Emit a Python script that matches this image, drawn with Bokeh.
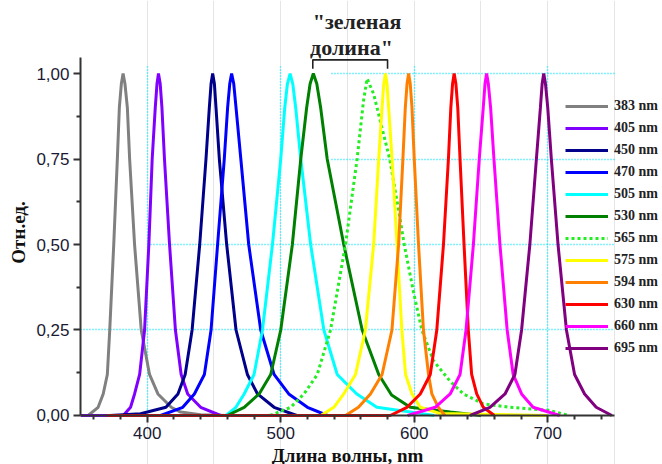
from bokeh.plotting import figure
from bokeh.models import (FixedTicker, Legend, LegendItem, Label, Range1d, Grid, LinearAxis)
from bokeh.embed import file_html
from bokeh.resources import INLINE

# ---- data (wavelength nm, relative intensity) ----
labels = ["383 nm", "405 nm", "450 nm", "470 nm", "505 nm", "530 nm",
          "565 nm", "575 nm", "594 nm", "630 nm", "660 nm", "695 nm"]
colors = ["#808080", "#8000ff", "#00008b", "#0000ff", "#00ffff", "#008000",
          "#22ee22", "#ffff00", "#ff8000", "#ff0000", "#ff00ff", "#800080"]

x_383 = [350, 355.7, 363.2, 367, 370.1, 371.9, 374.9, 377.6, 379.1, 380.6, 381.9, 383.3, 385.1, 386.8, 390.5, 395.5, 401.7, 408, 418, 425, 440, 460]
y_383 = [0, 0, 0.024, 0.063, 0.12, 0.25, 0.5, 0.75, 0.9, 0.97, 1.0, 0.97, 0.9, 0.75, 0.5, 0.25, 0.12, 0.063, 0.024, 0.01, 0.002, 0]

x_405 = [350, 382, 387.5, 390.5, 394.3, 398, 401.2, 403.7, 406, 407.3, 408.4, 409.7, 411, 412.9, 416.7, 421.1, 425.4, 430.3, 440, 455]
y_405 = [0, 0, 0.024, 0.063, 0.12, 0.25, 0.5, 0.75, 0.9, 0.97, 1.0, 0.97, 0.9, 0.75, 0.5, 0.25, 0.12, 0.063, 0.024, 0]

x_450 = [372, 395, 414, 423, 428.4, 433.6, 439.3, 444, 446.5, 447.8, 449, 450.3, 451.5, 454, 459.5, 466.5, 475, 482.6, 495, 512]
y_450 = [0, 0.005, 0.024, 0.063, 0.12, 0.25, 0.5, 0.75, 0.9, 0.97, 1.0, 0.97, 0.9, 0.75, 0.5, 0.25, 0.12, 0.063, 0.024, 0]

x_470 = [410, 426.6, 435.3, 442.8, 447.8, 452.7, 457.7, 460.2, 461.8, 463.2, 464.8, 466.5, 470.1, 476, 485, 495, 506, 520, 535]
y_470 = [0, 0.024, 0.063, 0.12, 0.25, 0.5, 0.75, 0.9, 0.97, 1.0, 0.97, 0.9, 0.75, 0.5, 0.25, 0.12, 0.063, 0.024, 0]

x_505 = [459, 466.4, 472.6, 480, 486.3, 493.8, 500, 503, 505, 507, 509, 511.2, 515, 522.4, 532.3, 542.3, 557, 572, 594.5, 615]
y_505 = [0, 0.024, 0.063, 0.12, 0.25, 0.5, 0.75, 0.9, 0.97, 1.0, 0.97, 0.9, 0.75, 0.5, 0.25, 0.12, 0.063, 0.024, 0.012, 0]

x_530 = [460, 472.6, 483.8, 492.5, 500, 508.7, 515, 519.4, 522, 524.4, 527, 529.9, 534.8, 547.2, 561, 573.4, 583, 597, 627, 650]
y_530 = [0, 0.024, 0.063, 0.12, 0.25, 0.5, 0.75, 0.9, 0.97, 1.0, 0.97, 0.9, 0.75, 0.5, 0.25, 0.12, 0.06, 0.024, 0.01, 0]

x_565 = [492, 507.5, 517.4, 527.4, 537.3, 548.5, 557.2, 562, 564.7, 569.6, 575.9, 581.6, 588.3, 592.5, 599.5, 605.7, 614.4, 626.9, 636.8, 651.7, 671.6, 701, 716]
y_565 = [0, 0.024, 0.063, 0.12, 0.25, 0.5, 0.75, 0.92, 0.985, 0.94, 0.84, 0.75, 0.6, 0.5, 0.36, 0.25, 0.16, 0.10, 0.063, 0.034, 0.024, 0.015, 0]

x_575 = [530, 539.8, 547.2, 556, 563.4, 569.6, 573.4, 575.9, 577.2, 578.4, 579.6, 580.8, 583.4, 587.1, 590.7, 593.5, 598.3, 604.5, 619, 700]
y_575 = [0, 0.024, 0.063, 0.12, 0.25, 0.5, 0.75, 0.9, 0.97, 1.0, 0.97, 0.9, 0.75, 0.5, 0.25, 0.12, 0.063, 0.024, 0.006, 0]

x_594 = [548.5, 558.2, 567.2, 575.9, 583.3, 588.3, 591.5, 593.3, 594.6, 595.8, 597, 598.3, 600, 603.2, 606.9, 610.7, 613.2, 618, 623]
y_594 = [0, 0.024, 0.063, 0.12, 0.25, 0.5, 0.75, 0.9, 0.97, 1.0, 0.97, 0.9, 0.75, 0.5, 0.25, 0.12, 0.063, 0.024, 0]

x_630 = [370, 582, 594.6, 604.5, 612, 616.9, 621.9, 625.6, 627.4, 628.7, 629.9, 631.2, 632.6, 634.3, 637.3, 640.5, 643, 646.8, 651.7, 660]
y_630 = [0, 0, 0.024, 0.063, 0.12, 0.25, 0.5, 0.75, 0.9, 0.97, 1.0, 0.97, 0.9, 0.75, 0.5, 0.25, 0.12, 0.063, 0.024, 0]

x_660 = [595, 615.7, 626.9, 634.3, 638.8, 644.3, 648.7, 651.7, 653, 654.2, 655.5, 657.2, 659.7, 664.2, 669.6, 674.1, 680.4, 689, 709]
y_660 = [0, 0.024, 0.063, 0.12, 0.25, 0.5, 0.75, 0.9, 0.97, 1.0, 0.97, 0.9, 0.75, 0.5, 0.25, 0.12, 0.063, 0.024, 0]

x_695 = [641.8, 656.7, 668, 675.4, 680.4, 686.6, 691.5, 694.5, 695.8, 697, 698.3, 700, 702.7, 707.7, 714, 720.1, 727.6, 736.3, 748]
y_695 = [0, 0.024, 0.063, 0.12, 0.25, 0.5, 0.75, 0.9, 0.97, 1.0, 0.97, 0.9, 0.75, 0.5, 0.25, 0.12, 0.063, 0.024, 0]

xs_all = [x_383, x_405, x_450, x_470, x_505, x_530, x_565, x_575, x_594, x_630, x_660, x_695]
ys_all = [y_383, y_405, y_450, y_470, y_505, y_530, y_565, y_575, y_594, y_630, y_660, y_695]

x_ticks = [400, 500, 600, 700]
x_minor = [360, 380, 420, 440, 460, 480, 520, 540, 560, 580, 620, 640, 660, 680, 720, 740]
y_ticks = [0, 0.25, 0.5, 0.75, 1.0]
y_minor = [0.125, 0.375, 0.625, 0.875]
y_tick_labels = ["0,00", "0,25", "0,50", "0,75", "1,00"]

x_axis_span = (350, 750)
y_axis_span = (0, 1.047)

bracket_x = [524, 580]          # "green gap" bracket ends, nm
bracket_y = [1.014, 1.040]      # bracket foot / bar heights

# ---- figure ----
# frame fills the canvas right, top and bottom so legend/title texts are not clipped;
# the x axis is pinned at y = 0 inside it
p = figure(width=662, height=464, x_range=Range1d(350, 785.96), y_range=Range1d(-0.1433, 1.2135),
           output_backend="svg", toolbar_location=None, x_axis_location=None,
           min_border_left=80, min_border_right=0, min_border_top=0, min_border_bottom=0)
p.outline_line_color = None
p.background_fill_color = "white"
p.ygrid.visible = False

xaxis = LinearAxis(fixed_location=0)
p.add_layout(xaxis, "below")

for ax, ticks, minor, span in ((xaxis, x_ticks, x_minor, x_axis_span),
                               (p.yaxis[0], y_ticks, y_minor, y_axis_span)):
    ax.ticker = FixedTicker(ticks=ticks, minor_ticks=minor)
    ax.bounds = span
    ax.axis_line_width = 2
    ax.axis_line_color = "#333333"
    ax.major_tick_line_width = 2
    ax.major_tick_line_color = "#333333"
    ax.minor_tick_line_width = 2
    ax.minor_tick_line_color = "#333333"
    ax.major_tick_out = 7
    ax.major_tick_in = 0
    ax.minor_tick_out = 4
    ax.minor_tick_in = 0
    ax.major_label_text_font = "Liberation Sans"
    ax.major_label_text_font_size = "17px"
    ax.major_label_text_color = "#1a1a33"
    ax.axis_label_text_font = "Liberation Serif"
    ax.axis_label_text_font_style = "bold"
    ax.axis_label_text_color = "#111111"

p.yaxis[0].major_label_overrides = {t: s for t, s in zip(y_ticks, y_tick_labels)}
xaxis.axis_label = "Длина волны, nm"
xaxis.axis_label_text_font_size = "19px"
xaxis.major_label_standoff = 5
xaxis.axis_label_standoff = 2
p.yaxis[0].axis_label = "Отн.ед."
p.yaxis[0].axis_label_text_font_size = "19px"
p.yaxis[0].major_label_standoff = 4
p.yaxis[0].axis_label_standoff = 4

# dotted cyan grid, partially visible as in the reference
grid_specs = [
    (1, [0.25], (350, 750)),
    (1, [0.5], (400, 750)),
    (1, [0.75, 1.0], (538, 750)),
    (0, x_ticks, (0, 1.02)),
]
for dim, ticks, cb in grid_specs:
    g = Grid(dimension=dim, ticker=FixedTicker(ticks=ticks), cross_bounds=cb,
             grid_line_color="#00e5ff", grid_line_dash="1 2", grid_line_width=1.5)
    p.add_layout(g)

items = []
for lab, col, xs, ys in zip(labels, colors, xs_all, ys_all):
    dash = "3 3" if lab == "565 nm" else "solid"
    r = p.line(xs, ys, line_color=col, line_width=3, line_dash=dash)
    items.append(LegendItem(label=lab, renderers=[r]))

p.line([bracket_x[0], bracket_x[0], bracket_x[1], bracket_x[1]],
       [bracket_y[0], bracket_y[1], bracket_y[1], bracket_y[0]],
       line_color="#222222", line_width=1.6)

legend = Legend(items=items, location=(485, 105), glyph_width=43, glyph_height=22,
                label_height=22, spacing=0, padding=0, margin=0, label_standoff=6,
                background_fill_alpha=0, border_line_alpha=0,
                label_text_font="Liberation Serif", label_text_font_style="bold",
                label_text_font_size="14px", label_text_color="#222222")
p.add_layout(legend)

p.add_layout(Label(x=524, y=1.152, text="\"зеленая", text_font="Liberation Serif",
                   text_font_style="bold", text_font_size="22px", text_color="#222222",
                   text_align="left", text_baseline="alphabetic"))
p.add_layout(Label(x=522, y=1.076, text="долина\"", text_font="Liberation Serif",
                   text_font_style="bold", text_font_size="22px", text_color="#222222",
                   text_align="left", text_baseline="alphabetic"))

open("out.html", "w").write(file_html(p, INLINE))
